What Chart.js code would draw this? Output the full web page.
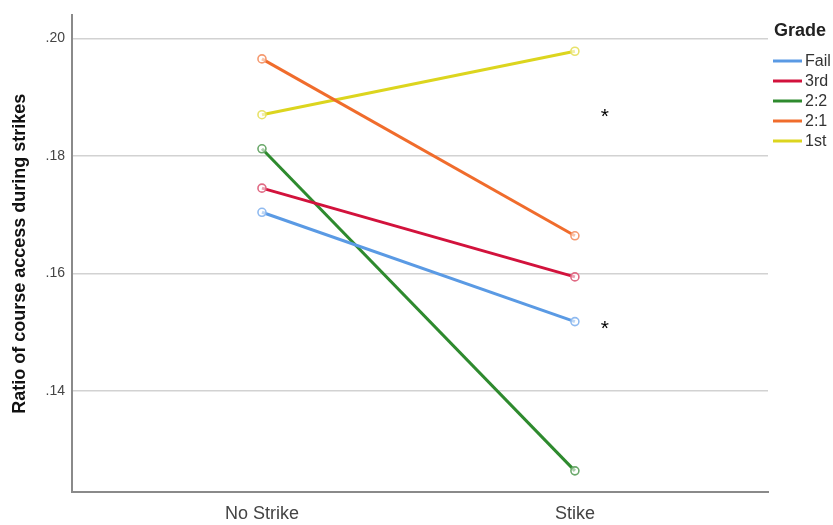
<!DOCTYPE html>
<html>
<head>
<meta charset="utf-8">
<script src="https://cdn.jsdelivr.net/npm/chart.js@4/dist/chart.umd.min.js"></script>
<style>
  html, body { margin: 0; padding: 0; background: #fff; }
  #wrap { width: 833px; height: 525px; position: relative; }
</style>
</head>
<body>
<div id="wrap"><canvas id="gradeChart"></canvas></div>
<script>
// values
const categories = ['No Strike', 'Stike'];
const grades = ['Fail', '3rd', '2:2', '2:1', '1st'];
const failValues = [0.1704, 0.1518];
const thirdValues = [0.1745, 0.1594];
const twoTwoValues = [0.1812, 0.1264];
const twoOneValues = [0.1965, 0.1664];
const firstValues = [0.1870, 0.1978];
const yTickValues = [0.14, 0.16, 0.18, 0.20];
// significance marks beside the Strike column
const asteriskValues = [0.1877, 0.1515];

const lineColors = ['#5a9ae4', '#d2123c', '#2e8a2e', '#f06c2c', '#dcd51e'];
const markerColors = ['#8fbaf0', '#e06a84', '#6aa86a', '#f59a70', '#e8e26a'];

const seriesValues = [failValues, thirdValues, twoTwoValues, twoOneValues, firstValues];

const datasets = grades.map((g, i) => ({
    label: g,
    data: seriesValues[i].map((v, j) => ({ x: j, y: v })),
    borderColor: lineColors[i],
    backgroundColor: '#ffffff',
    borderWidth: 3,
    pointRadius: 4,
    pointBorderWidth: 1.6,
    pointBorderColor: markerColors[i],
    pointBackgroundColor: 'rgba(255,255,255,0.6)',
    tension: 0
}));

// legend + asterisks drawn by hand
const extrasPlugin = {
    id: 'extras',
    afterDraw(chart) {
        const ctx = chart.ctx;
        const xs = chart.scales.x, ys = chart.scales.y;
        ctx.save();
        ctx.fillStyle = '#000';
        ctx.font = '21px "Liberation Sans", Arial, sans-serif';
        ctx.textAlign = 'center';
        ctx.textBaseline = 'alphabetic';
        asteriskValues.forEach(v => {
            ctx.fillText('*', xs.getPixelForValue(1.096), ys.getPixelForValue(v) + 12);
        });

        ctx.fillStyle = '#222';
        ctx.font = 'bold 18px "Liberation Sans", Arial, sans-serif';
        ctx.textAlign = 'left';
        ctx.textBaseline = 'middle';
        ctx.fillText('Grade', 774, 31);

        ctx.font = '16px "Liberation Sans", Arial, sans-serif';
        chart.data.datasets.forEach((ds, i) => {
            const y = 61 + i * 20;
            ctx.strokeStyle = ds.borderColor;
            ctx.lineWidth = 3;
            ctx.beginPath();
            ctx.moveTo(773, y);
            ctx.lineTo(802, y);
            ctx.stroke();
            ctx.fillStyle = '#333';
            ctx.fillText(ds.label, 805, y + 1);
        });
        ctx.restore();
    }
};

new Chart(document.getElementById('gradeChart'), {
    type: 'line',
    data: { datasets: datasets },
    plugins: [extrasPlugin],
    options: {
        responsive: true,
        maintainAspectRatio: false,
        animation: false,
        layout: { padding: { left: 5, right: 65, top: 13, bottom: 0 } },
        plugins: {
            legend: { display: false },
            tooltip: { enabled: false }
        },
        scales: {
            x: {
                type: 'linear',
                min: -0.607,
                max: 1.617,
                afterBuildTicks: scale => { scale.ticks = categories.map((c, i) => ({ value: i })); },
                afterFit: scale => { scale.height = 33; },
                grid: { display: false, drawTicks: false },
                border: { display: true, color: '#8a8a8a', width: 2 },
                ticks: {
                    padding: 11,
                    color: '#444',
                    font: { size: 18, family: '"Liberation Sans", Arial, sans-serif' },
                    callback: v => categories[v]
                }
            },
            y: {
                min: 0.1228,
                max: 0.2039,
                afterBuildTicks: scale => { scale.ticks = yTickValues.map(v => ({ value: v })); },
                afterFit: scale => { scale.width = 67; },
                grid: { color: '#d2d2d2', lineWidth: 1.5, drawTicks: false },
                border: { display: true, color: '#8a8a8a', width: 2 },
                ticks: {
                    padding: 7,
                    color: '#444',
                    font: { size: 14, family: '"Liberation Sans", Arial, sans-serif' },
                    callback: v => v.toFixed(2).replace(/^0/, '')
                },
                title: {
                    display: true,
                    text: 'Ratio of course access during strikes',
                    color: '#111',
                    padding: { top: 4, bottom: 0 },
                    font: { size: 18, weight: 'bold', family: '"Liberation Sans", Arial, sans-serif' }
                }
            }
        }
    }
});
</script>
</body>
</html>
